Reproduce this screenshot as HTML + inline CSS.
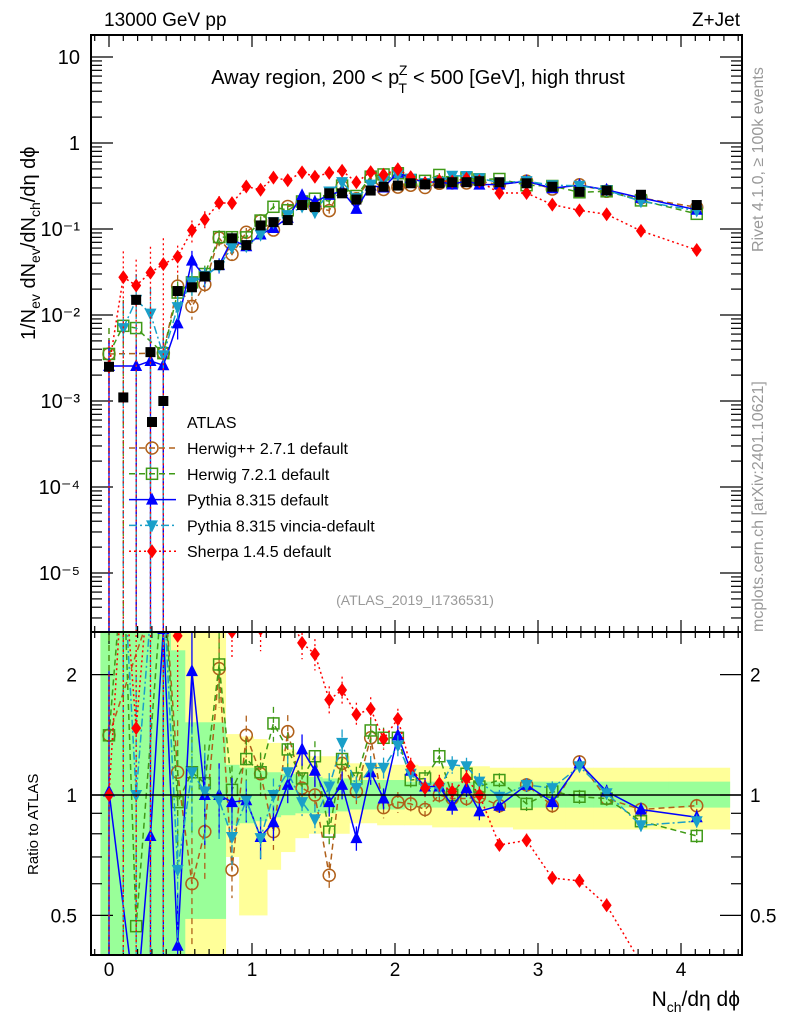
<!DOCTYPE html>
<html><head><meta charset="utf-8"><style>
html,body{margin:0;padding:0;background:#fff;overflow:hidden;width:786px;height:1024px;}
svg{display:block;font-family:"Liberation Sans",sans-serif;}
</style></head><body>
<svg id="chart" width="786" height="1024" viewBox="0 0 786 1024" xmlns="http://www.w3.org/2000/svg">
<defs>
<clipPath id="cm"><rect x="91" y="35" width="651" height="597"/></clipPath>
<clipPath id="cr"><rect x="91" y="632" width="651" height="323"/></clipPath>
</defs>
<g id="bands" clip-path="url(#cr)"></g>
<g id="ticks"></g>
<g id="mainMarks" clip-path="url(#cm)"></g>
<g id="ratioMarks" clip-path="url(#cr)"></g>
<rect x="91" y="35" width="651" height="597" fill="none" stroke="#000" stroke-width="2"/>
<rect x="91" y="632" width="651" height="323" fill="none" stroke="#000" stroke-width="2"/>
<line x1="91" y1="795" x2="742" y2="795" stroke="#000" stroke-width="1.5"/>
<g id="labels" font-size="18"></g>
<text x="104" y="26" font-size="19">13000 GeV pp</text>
<text x="740" y="26" font-size="19" text-anchor="end">Z+Jet</text>
<text x="418" y="84" font-size="20" text-anchor="middle">Away region, 200 &lt; p<tspan font-size="14" dy="9" dx="-1">T</tspan><tspan font-size="14" dy="-18" dx="-8">Z</tspan><tspan dy="9"> &lt; 500 [GeV], high thrust</tspan></text>
<text x="415" y="605" font-size="14" fill="#999" text-anchor="middle">(ATLAS_2019_I1736531)</text>
<text transform="translate(763,252) rotate(-90)" font-size="16" fill="#999">Rivet 4.1.0, ≥ 100k events</text>
<text transform="translate(763,632) rotate(-90)" font-size="16" fill="#999">mcplots.cern.ch [arXiv:2401.10621]</text>
<text transform="translate(35,340) rotate(-90)" font-size="20">1/N<tspan font-size="14" dy="5">ev</tspan><tspan dy="-5"> dN</tspan><tspan font-size="14" dy="5">ev</tspan><tspan dy="-5">/dN</tspan><tspan font-size="14" dy="5">ch</tspan><tspan dy="-5">/dη dϕ</tspan></text>
<text transform="translate(38,875) rotate(-90)" font-size="15">Ratio to ATLAS</text>
<text x="740" y="1006" font-size="21" text-anchor="end">N<tspan font-size="14" dy="6">ch</tspan><tspan dy="-6">/dη dϕ</tspan></text>
<g id="legend" font-size="16"></g>
</svg>
<script>
const xs = [0,0.1,0.19,0.29,0.38,0.48,0.58,0.67,0.77,0.86,0.96,1.06,1.15,1.25,1.35,1.44,1.54,1.63,1.73,1.83,1.92,2.02,2.11,2.21,2.31,2.4,2.5,2.59,2.73,2.92,3.1,3.29,3.48,3.72,4.11];
const atlas = [0.0025,0.0011,0.015,0.0037,0.001,0.019,0.021,0.028,0.038,0.078,0.065,0.11,0.12,0.127,0.19,0.18,0.26,0.26,0.22,0.28,0.31,0.32,0.34,0.33,0.34,0.35,0.35,0.36,0.35,0.34,0.31,0.27,0.28,0.25,0.19];
const herwigpp = [1.41,null,null,null,3.6,1.14,0.6,0.81,2.07,0.65,1.41,1.13,0.81,1.44,1.04,1.0,0.63,1.2,1.02,1.39,0.93,0.96,0.95,0.92,1.0,0.98,0.98,0.99,0.94,1.06,0.94,1.21,0.98,0.92,0.94];
const herwig7 = [1.41,6.8,0.47,null,3.6,0.96,1.14,1.07,2.12,1.03,1.23,1.14,1.51,1.30,1.1,1.25,0.81,1.23,1.1,1.45,1.39,1.39,1.09,1.10,1.25,1.0,1.13,1.05,1.09,0.95,1.02,0.99,0.98,0.86,0.79];
const pythia = [1.02,null,0.17,0.79,2.6,0.42,2.04,1.0,1.0,0.96,0.97,0.785,0.855,1.06,1.30,1.15,0.96,1.06,0.78,1.14,0.98,1.41,1.15,1.05,1.05,0.94,1.04,0.91,0.94,1.06,0.96,1.2,1.02,0.92,0.88];
const vincia = [null,6.4,1.0,2.8,3.4,0.65,1.14,1.02,0.97,0.785,0.97,0.78,1.0,1.14,0.96,0.87,1.05,1.35,1.04,1.17,1.17,1.33,1.13,1.04,1.04,1.19,1.18,1.08,0.99,1.06,1.04,1.18,1.01,0.84,0.86];
const sherpa = [1.0,25,1.47,8.4,39,2.5,4.6,4.6,5.3,2.56,4.8,2.6,3.3,2.9,2.4,2.25,1.73,1.83,1.59,1.64,1.38,1.55,1.18,1.04,1.07,1.02,1.10,1.0,0.75,0.77,0.62,0.61,0.53,0.38,0.3];
const mcErr = [1,1,1,1,1,0.35,0.3,0.25,0.2,0.15,0.12,0.12,0.1,0.1,0.09,0.09,0.08,0.08,0.07,0.07,0.06,0.06,0.05,0.05,0.05,0.05,0.05,0.05,0.04,0.04,0.04,0.04,0.04,0.04,0.04];
const greenHi = [3,3,3,3,3,2.3,1.52,1.52,1.52,1.19,1.17,1.15,1.14,1.13,1.12,1.11,1.1,1.1,1.09,1.09,1.09,1.09,1.08,1.08,1.08,1.08,1.08,1.08,1.08,1.08,1.08,1.08,1.08,1.08,1.08];
const greenLo = [0.3,0.3,0.3,0.3,0.3,0.3,0.49,0.49,0.49,0.84,0.85,0.86,0.88,0.89,0.9,0.9,0.9,0.91,0.92,0.92,0.92,0.92,0.93,0.93,0.93,0.93,0.93,0.93,0.93,0.93,0.93,0.93,0.93,0.93,0.93];
const yelHi = [3,3,3,3,3,3,3,3,3,1.42,1.4,1.38,1.35,1.3,1.28,1.25,1.25,1.25,1.2,1.2,1.2,1.19,1.19,1.18,1.18,1.18,1.18,1.18,1.17,1.17,1.17,1.17,1.17,1.17,1.17];
const yelLo = [0.3,0.3,0.3,0.3,0.3,0.3,0.3,0.3,0.3,0.7,0.5,0.5,0.65,0.72,0.78,0.8,0.8,0.8,0.85,0.85,0.84,0.84,0.84,0.84,0.83,0.83,0.83,0.83,0.83,0.82,0.82,0.82,0.82,0.82,0.82];
const mainTicks = [10,1,0.1,0.01,0.001,0.0001,0.00001];
const mainTickLabels = ["10","1","10⁻¹","10⁻²","10⁻³","10⁻⁴","10⁻⁵"];
const ratioTicks = [2,1,0.5];
const ratioTickLabels = ["2","1","0.5"];
const xTicks = [0,1,2,3,4];

const NS="http://www.w3.org/2000/svg";
const X = v => 109 + 143*v;
const Ym = v => 143 - 86*Math.log10(v);
const Yr = r => 795 - 400*Math.log10(r);
function mk(tag, attrs, parent){const e=document.createElementNS(NS,tag);for(const k in attrs)e.setAttribute(k,attrs[k]);parent.appendChild(e);return e;}

const bandG=document.getElementById('bands');
function edges(i){const l = i===0 ? xs[0]-0.06 : (xs[i-1]+xs[i])/2; const r = i===xs.length-1 ? xs[i]+0.23 : (xs[i]+xs[i+1])/2; return [l,r];}
const clampR = r => Math.min(Math.max(r,0.35),2.7);
xs.forEach((x,i)=>{const [l,r]=edges(i);
 const y=mk('rect',{x:X(l),y:Yr(clampR(yelHi[i])),width:X(r)-X(l)+0.5,height:Yr(clampR(yelLo[i]))-Yr(clampR(yelHi[i])),fill:'#ffff99'},bandG);
 
 
});
xs.forEach((x,i)=>{const [l,r]=edges(i);
 const g=mk('rect',{x:X(l),y:Yr(clampR(greenHi[i])),width:X(r)-X(l)+0.5,height:Yr(clampR(greenLo[i]))-Yr(clampR(greenHi[i])),fill:'#99ff99'},bandG);
 
 
});

const tg=document.getElementById('ticks');
function line(x1,y1,x2,y2,p){return mk('line',{x1,y1,x2,y2,stroke:'#000','stroke-width':1.2},p);}
for(let d=-6; d<=1; d++){for(let m=1;m<=9;m++){const v=m*Math.pow(10,d);const y=Ym(v);if(y<36||y>631)continue;const L=m===1?22:11;line(91,y,91+L,y,tg);line(742,y,742-L,y,tg);}}
[0.4,0.5,0.6,0.7,0.8,0.9,1,2].forEach(r=>{const y=Yr(r);if(y<633||y>954)return;const L=(r===1||r===2||r===0.5)?22:11;line(91,y,91+L,y,tg);line(742,y,742-L,y,tg);});
for(let k=-1;k<=44;k++){const v=k/10;const x=X(v);if(x<92||x>741)continue;const L=(k%10===0)?12:6;
 line(x,35,x,35+L,tg);line(x,632,x,632-L,tg);line(x,632,x,632+L,tg);line(x,955,x,955-L,tg);}

const lg=document.getElementById('labels');
mainTicks.forEach((v,i)=>{const t=mk('text',{x:80,y:Ym(v)+7,'text-anchor':'end','font-size':20},lg);t.textContent=mainTickLabels[i];
 
 });
ratioTicks.forEach((v,i)=>{const t=mk('text',{x:77,y:Yr(v)+7,'text-anchor':'end','font-size':19},lg);t.textContent=ratioTickLabels[i];
 
 
 const t2=mk('text',{x:750,y:Yr(v)+7,'font-size':19},lg);t2.textContent=ratioTickLabels[i];
 
 });
xTicks.forEach(v=>{const t=mk('text',{x:X(v),y:976,'text-anchor':'middle','font-size':19},lg);t.textContent=String(v);
 
 });

function marker(kind,cx,cy,col,p){
 if(kind==='sq') return mk('rect',{x:cx-5,y:cy-5,width:10,height:10,fill:'#000'},p);
 if(kind==='circ') return mk('circle',{cx,cy,r:6,fill:'none',stroke:col,'stroke-width':1.5},p);
 if(kind==='osq') return mk('rect',{x:cx-5.5,y:cy-5.5,width:11,height:11,fill:'none',stroke:col,'stroke-width':1.5},p);
 if(kind==='up') return mk('polygon',{points:`${cx},${cy-7} ${cx-6},${cy+5} ${cx+6},${cy+5}`,fill:col},p);
 if(kind==='dn') return mk('polygon',{points:`${cx},${cy+7} ${cx-6},${cy-5} ${cx+6},${cy-5}`,fill:col},p);
 if(kind==='dia') return mk('polygon',{points:`${cx},${cy-7} ${cx-5},${cy} ${cx},${cy+7} ${cx+5},${cy}`,fill:col},p);
}
const series=[
 {name:'herwigpp',label:'Herwig++ 2.7.1 default',data:herwigpp,col:'#b0601a',dash:'6,4',kind:'circ'},
 {name:'herwig7',label:'Herwig 7.2.1 default',data:herwig7,col:'#3f9a17',dash:'6,4',kind:'osq'},
 {name:'pythia',label:'Pythia 8.315 default',data:pythia,col:'#0000ff',dash:'',kind:'up'},
 {name:'vincia',label:'Pythia 8.315 vincia-default',data:vincia,col:'#1a9fc9',dash:'8,3,2,3',kind:'dn'},
 {name:'sherpa',label:'Sherpa 1.4.5 default',data:sherpa,col:'#ff0000',dash:'2,3',kind:'dia'}
];
const mm=document.getElementById('mainMarks'), rm=document.getElementById('ratioMarks');
const cy = (y,lo,hi)=>Math.min(Math.max(y,lo),hi);
series.forEach(s=>{
 const gm=mk('g',{},mm);  
 const gr=mk('g',{},rm);  
 const pm=[],pr=[];
 s.data.forEach((r,i)=>{if(r===null)return;const v=r*atlas[i];pm.push(`${X(xs[i])},${cy(Ym(v),0,700)}`);pr.push(`${X(xs[i])},${cy(Yr(r),560,1010)}`);});
 const a={fill:'none',stroke:s.col,'stroke-width':1.5};if(s.dash)a['stroke-dasharray']=s.dash;
 const l1=mk('polyline',Object.assign({points:pm.join(' ')},a),gm);
 
 
 const l2=mk('polyline',Object.assign({points:pr.join(' ')},a),gr);
 
 
 s.data.forEach((r,i)=>{if(r===null)return;const v=r*atlas[i];const e=mcErr[i];const x=X(xs[i]);
  const hi=v*(1+e);
  const b={stroke:s.col,'stroke-width':1.3};if(s.dash)b['stroke-dasharray']=s.dash;
  mk('line',Object.assign({x1:x,x2:x,y1:cy(Ym(hi),30,640),y2:e>=1?640:cy(Ym(v*(1-e)),30,640)},b),gm);
  mk('line',Object.assign({x1:x,x2:x,y1:cy(Yr(r*(1+e)),625,960),y2:e>=1?960:cy(Yr(r*(1-e)),625,960)},b),gr);
  const m1=marker(s.kind,x,cy(Ym(v),0,700),s.col,gm);
  
  
  const m2=marker(s.kind,x,cy(Yr(r),600,1000),s.col,gr);
  
  
 });
});
const ga=mk('g',{},mm);  
atlas.forEach((v,i)=>{const m=marker('sq',X(xs[i]),Ym(v),'#000',ga);
 
 });

const lgd=document.getElementById('legend');
const la=marker('sq',152,422,'#000',lgd);


const lt=mk('text',{x:187,y:428},lgd);lt.textContent='ATLAS';


series.forEach((s,k)=>{const y=448+k*25.8;
 const a={x1:129,x2:176,y1:y,y2:y,stroke:s.col,'stroke-width':1.5};if(s.dash)a['stroke-dasharray']=s.dash;
 mk('line',a,lgd);
 const m=marker(s.kind,152,y,s.col,lgd);
 
 
 const t=mk('text',{x:187,y:y+6},lgd);t.textContent=s.label;
 
 
});
</script>
</body></html>
